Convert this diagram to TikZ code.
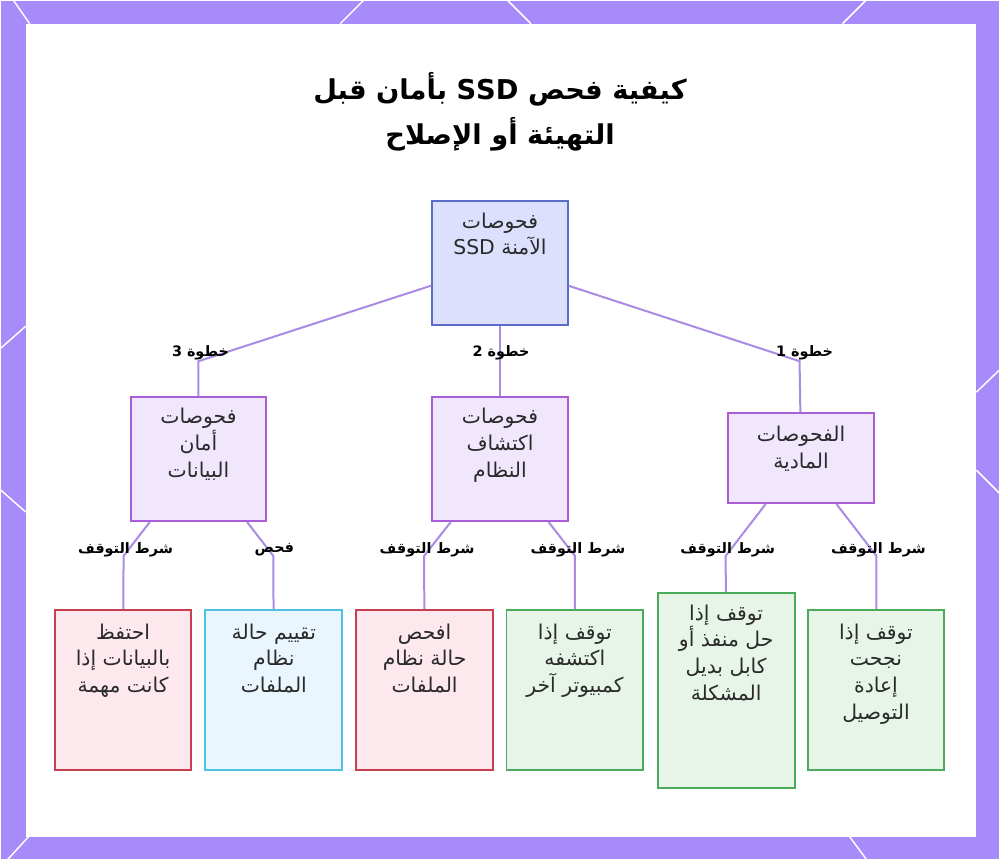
\documentclass[tikz,border=0pt]{standalone}
\usepackage{fontspec}
\newfontfamily\arabicfont[Script=Arabic]{DejaVu Sans}
\TeXXeTstate=1
\usetikzlibrary{calc}
\definecolor{bordpurple}{HTML}{A78BFA}
\definecolor{edgecol}{HTML}{A98BE4}
\definecolor{rootfill}{HTML}{DCE0FC}
\definecolor{rootdraw}{HTML}{5B6CC9}
\definecolor{midfill}{HTML}{F1E7FD}
\definecolor{middraw}{HTML}{A95DD6}
\definecolor{pinkfill}{HTML}{FDE8EE}
\definecolor{pinkdraw}{HTML}{C8404F}
\definecolor{bluefill}{HTML}{EAF6FD}
\definecolor{bluedraw}{HTML}{4EC1E6}
\definecolor{greenfill}{HTML}{E7F5E8}
\definecolor{greendraw}{HTML}{4CAB5B}
\definecolor{txtcol}{HTML}{2A2A2A}
\newcommand\RL[1]{\beginR #1\endR}
\begin{document}
\begin{tikzpicture}[x=0.75pt,y=-0.75pt,
  box/.style={draw, line width=1.5pt, inner sep=0pt, minimum width=102pt, minimum height=93pt},
  rootbox/.style={box, fill=rootfill, draw=rootdraw},
  midbox/.style={box, fill=midfill, draw=middraw},
  pinkbox/.style={box, fill=pinkfill, draw=pinkdraw, minimum width=102.75pt, minimum height=120pt},
  bluebox/.style={box, fill=bluefill, draw=bluedraw, minimum width=102.75pt, minimum height=120pt},
  greenbox/.style={box, fill=greenfill, draw=greendraw, minimum width=102.75pt, minimum height=120pt},
  ntxt/.style={font=\arabicfont\fontsize{15.3}{20}\selectfont, align=center, inner sep=0pt, text=txtcol, anchor=north},
  elab/.style={font=\arabicfont\bfseries\fontsize{10.8}{12}\selectfont, inner sep=0pt, text=black},
  edge/.style={draw=edgecol, line width=1.5pt},
  deco/.style={draw=white, line width=1.1pt}
]
% frame
\fill[bordpurple] (0,0) rectangle (1000,860);
\fill[white] (25,23) rectangle (977,837);
\draw[deco] (13,0) -- (29,23);
\draw[deco] (363,0) -- (340,23);
\draw[deco] (508,0) -- (531,23);
\draw[deco] (866,0) -- (843,23);
\draw[deco] (0,348) -- (25,326);
\draw[deco] (0,490) -- (25,512);
\draw[deco] (977,392) -- (1000,370);
\draw[deco] (977,470) -- (1000,493);
\draw[deco] (28,837) -- (7,860);
\draw[deco] (850,837) -- (867,860);
\useasboundingbox (0,0) rectangle (1000,860);

% title
\node[font=\arabicfont\bfseries\fontsize{20.5}{34}\selectfont, align=center, text=black, inner sep=0pt] (title) at (500,111)
  {\RL{كيفية فحص \beginL SSD\endL{} بأمان قبل}\\\RL{التهيئة أو الإصلاح}};

% boxes
\node[rootbox] (root) at (500,263) {};
\node[midbox] (c3) at (198,459) {};
\node[midbox] (c2) at (500,459) {};
\node[midbox, minimum width=110.25pt, minimum height=67.5pt] (c1) at (801.5,458) {};
\node[pinkbox] (l1) at (122.5,690) {};
\node[bluebox] (l2) at (273.5,690) {};
\node[pinkbox] (l3) at (424.5,690) {};
\node[greenbox] (l4) at (575,690) {};
\node[greenbox, minimum height=146.25pt] (l5) at (726.5,690.5) {};
\node[greenbox] (l6) at (876.5,690) {};

% box texts
\node[ntxt] (troot) at ([yshift=-9pt]root.north) {\RL{فحوصات}\\\RL{الآمنة \beginL SSD\endL}};
\node[ntxt] (tc3) at ([yshift=-9pt]c3.north) {\RL{فحوصات}\\\RL{أمان}\\\RL{البيانات}};
\node[ntxt] (tc2) at ([yshift=-9pt]c2.north) {\RL{فحوصات}\\\RL{اكتشاف}\\\RL{النظام}};
\node[ntxt] (tc1) at ([yshift=-10.5pt]c1.north) {\RL{الفحوصات}\\\RL{المادية}};
\node[ntxt] (tl1) at ([yshift=-11pt]l1.north) {\RL{احتفظ}\\\RL{بالبيانات إذا}\\\RL{كانت مهمة}};
\node[ntxt] (tl2) at ([yshift=-11pt]l2.north) {\RL{تقييم حالة}\\\RL{نظام}\\\RL{الملفات}};
\node[ntxt] (tl3) at ([yshift=-11pt]l3.north) {\RL{افحص}\\\RL{حالة نظام}\\\RL{الملفات}};
\node[ntxt] (tl4) at ([yshift=-11pt]l4.north) {\RL{توقف إذا}\\\RL{اكتشفه}\\\RL{كمبيوتر آخر}};
\node[ntxt] (tl5) at ([yshift=-9.5pt]l5.north) {\RL{توقف إذا}\\\RL{حل منفذ أو}\\\RL{كابل بديل}\\\RL{المشكلة}};
\node[ntxt] (tl6) at ([yshift=-11pt]l6.north) {\RL{توقف إذا}\\\RL{نجحت}\\\RL{إعادة}\\\RL{التوصيل}};

% bend points
\coordinate (s3) at (198,361);
\coordinate (s2) at (500,361);
\coordinate (s1) at (800,361);
\coordinate (b1) at (123,556);
\coordinate (b2) at (273,556);
\coordinate (b3) at (424,556);
\coordinate (b4) at (575,556);
\coordinate (b5) at (726,556);
\coordinate (b6) at (877,556);

% connectors
\draw[edge] (root) -- (s3) -- (c3);
\draw[edge] (root) -- (s2) -- (c2);
\draw[edge] (root) -- (s1) -- (c1);
\draw[edge] (c3) -- (b1) -- (l1);
\draw[edge] (c3) -- (b2) -- (l2);
\draw[edge] (c2) -- (b3) -- (l3);
\draw[edge] (c2) -- (b4) -- (l4);
\draw[edge] (c1) -- (b5) -- (l5);
\draw[edge] (c1) -- (b6) -- (l6);

% labels
\node[elab] (k3) at (200,353) {\RL{خطوة 3}};
\node[elab] (k2) at (501,353) {\RL{خطوة 2}};
\node[elab] (k1) at (805,353) {\RL{خطوة 1}};
\node[elab] (e1) at (125,550) {\RL{شرط التوقف}};
\node[elab] (e2) at (274,550) {\RL{فحص}};
\node[elab] (e3) at (427,550) {\RL{شرط التوقف}};
\node[elab] (e4) at (578,550) {\RL{شرط التوقف}};
\node[elab] (e5) at (728,550) {\RL{شرط التوقف}};
\node[elab] (e6) at (879,550) {\RL{شرط التوقف}};
\end{tikzpicture}
\end{document}
